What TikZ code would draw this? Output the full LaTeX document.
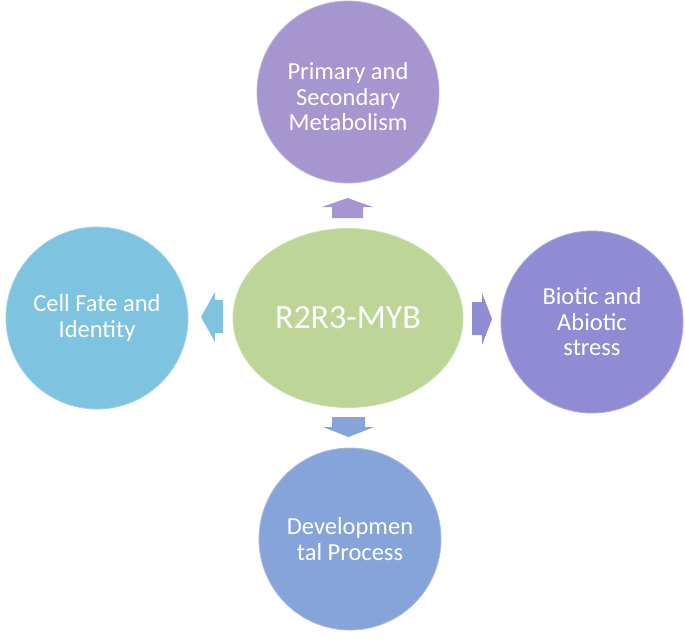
\documentclass[tikz,border=0pt]{standalone}
\usepackage{fontspec}
\setmainfont{Carlito}
\definecolor{cTop}{HTML}{A596CF}
\definecolor{cMid}{HTML}{BDD596}
\definecolor{cLeft}{HTML}{7EC4E0}
\definecolor{cRight}{HTML}{8F8CD4}
\definecolor{cBot}{HTML}{87A4DA}
\tikzset{
  topic/.style={circle, minimum size=182pt, inner sep=0pt, text=white, align=center,
    font=\fontsize{24.5}{25.5}\selectfont, line width=0.8pt},
  hub/.style={ellipse, minimum width=230pt, minimum height=179pt, inner sep=0pt, text=white,
    font=\fontsize{34}{36}\selectfont, fill=cMid, draw=cMid!80!white, line width=0.8pt}
}
\usetikzlibrary{shapes.geometric}
\begin{document}
\begin{tikzpicture}[x=1pt,y=-1pt]
\useasboundingbox (0,0) rectangle (685,638);
\fill[white] (0,0) rectangle (685,638);
% block arrows
\fill[cTop] (332,218) -- (332,207) -- (322,207) -- (347.5,198) -- (373,207) -- (363,207) -- (363,218) -- cycle;
\fill[cLeft] (223,300) -- (215,300) -- (215,292) -- (201,317) -- (215,342) -- (215,333) -- (223,333) -- cycle;
\fill[cRight] (472,302) -- (482,302) -- (482,293) -- (492,319) -- (482,345) -- (482,335) -- (472,335) -- cycle;
\fill[cBot] (332,417) -- (332,427) -- (323,427) -- (348.5,437) -- (374,427) -- (365,427) -- (365,417) -- cycle;
% nodes
\node[hub] (hub) at (348,318) {R2R3-MYB};
\node[topic, fill=cTop, draw=cTop!75!white] (met) at (348,92) {};
\node[text=white, align=center, font=\fontsize{24.5}{25.5}\selectfont] (metText) at (348,97) {Primary and\\Secondary\\Metabolism};
\node[topic, fill=cLeft, draw=cLeft!75!white] (cell) at (97,318) {Cell Fate and\\Identity};
\node[topic, fill=cRight, draw=cRight!75!white] (stress) at (592,322) {Biotic and\\Abiotic\\stress};
\node[topic, fill=cBot, draw=cBot!75!white] (dev) at (350,539) {Developmen\\tal Process};
\end{tikzpicture}
\end{document}
